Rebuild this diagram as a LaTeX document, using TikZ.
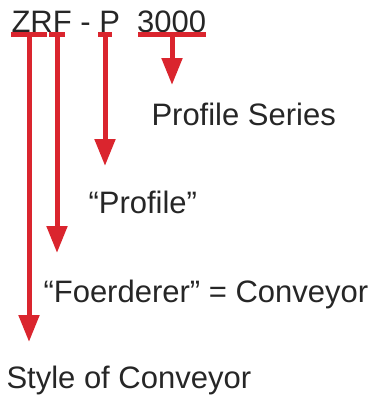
\documentclass[tikz,border=0pt]{standalone}
\usepackage{fontspec}
\setmainfont{Liberation Sans}
\usetikzlibrary{arrows.meta}

\definecolor{codered}{RGB}{218,37,46}
\definecolor{codetext}{RGB}{38,38,38}

\tikzset{every picture/.style={line width=0.75pt}}
\tikzset{
  codebar/.style={fill=codered, inner sep=0pt, minimum height=3.75pt},
  pointer/.style={draw=codered, line width=3.75pt, -{Triangle[length=20.25pt, width=15pt]}},
  label/.style={anchor=base west, inner sep=0pt, text=codetext, font=\fontsize{23.25}{28}\selectfont}
}

\begin{document}
\begin{tikzpicture}[x=0.75pt,y=0.75pt,yscale=-1,xscale=1]
\useasboundingbox (0,0) rectangle (374,396);

% Text Node
\node[label] (code) at (11,32) {ZRF - P\ \ 3000};

%Shape: Bars under the code
\node[codebar, minimum width=27pt] (barZR) at (29,34) {};
\node[codebar, minimum width=12pt] (barF) at (57,34) {};
\node[codebar, minimum width=10.5pt] (barP) at (105,34) {};
\node[codebar, minimum width=51pt] (barNum) at (172,34) {};

%Arrow tips
\coordinate (tipZR) at (29,342);
\coordinate (tipF) at (57,253);
\coordinate (tipP) at (105,166);
\coordinate (tipNum) at (172,85);

%Straight Lines
\draw[pointer] (barZR.center) -- (tipZR);
\draw[pointer] (barF.center) -- (tipF);
\draw[pointer] (barP.center) -- (tipP);
\draw[pointer] (barNum.center) -- (tipNum);

% Text Node
\node[label] (series) at (151,125) {Profile Series};
% Text Node
\node[label] (profile) at (88,213) {“Profile”};
% Text Node
\node[label] (conveyor) at (43,302) {“Foerderer” = Conveyor};
% Text Node
\node[label] (style) at (6,388) {Style of Conveyor};

\end{tikzpicture}
\end{document}
